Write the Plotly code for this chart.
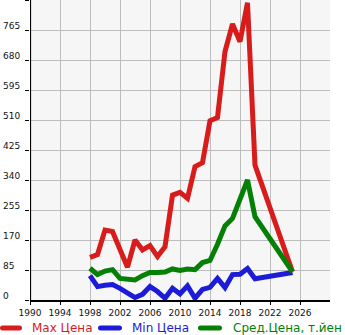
import plotly.graph_objects as go

# Price history by model year
years = [1998, 1999, 2000, 2001, 2002, 2003, 2004, 2005, 2006, 2007, 2008, 2009,
         2010, 2011, 2012, 2013, 2014, 2015, 2016, 2017, 2018, 2019, 2020, 2025]
max_price = [121, 129, 198, 194, 143, 93, 170, 142, 154, 123, 151, 297,
             305, 288, 378, 389, 508, 517, 704, 782, 732, 842, 382, 80]
min_price = [69, 38, 42, 44, 33, 22, 7, 16, 38, 24, 5, 33,
             17, 40, 5, 30, 36, 61, 35, 72, 73, 89, 60, 78]
avg_price = [90, 72, 82, 86, 61, 60, 57, 69, 78, 78, 79, 88,
             84, 88, 86, 106, 112, 158, 210, 231, 285, 340, 236, 80]

y_ticks = [0, 85, 170, 255, 340, 425, 510, 595, 680, 765]
x_ticks = [1990, 1994, 1998, 2002, 2006, 2010, 2014, 2018, 2022, 2026]

series_names = ["Max Цена", "Min Цена", "Сред.Цена, т.йен"]
series_colors = ["#d81b1b", "#1c1cd8", "#048004"]
series_values = [max_price, min_price, avg_price]

FONT = "DejaVu Sans"

fig = go.Figure()
for name, color, vals in zip(series_names, series_colors, series_values):
    fig.add_trace(go.Scatter(
        x=years, y=vals, mode="lines", name=name,
        line=dict(color=color, width=5, shape="linear"),
        showlegend=False,
    ))

fig.update_layout(
    width=345, height=335,
    margin=dict(l=30, r=15, t=0, b=35),
    paper_bgcolor="white",
    plot_bgcolor="#f6f6f6",
    font=dict(family=FONT, size=9, color="#111"),
    xaxis=dict(
        range=[1990, 2030], tickvals=x_ticks, ticktext=[str(t) for t in x_ticks],
        showgrid=True, gridcolor="#bdbdbd", gridwidth=1,
        showline=True, linecolor="black", linewidth=2,
        ticks="outside", ticklen=3, tickcolor="black", tickwidth=1,
        zeroline=False, fixedrange=True,
        tickfont=dict(family=FONT, size=9, color="#111"),
    ),
    yaxis=dict(
        range=[0, 850], tickvals=y_ticks + [850], showticklabels=False,
        showgrid=True, gridcolor="#bdbdbd", gridwidth=1,
        ticks="outside", ticklen=4, tickcolor="black", tickwidth=1,
        zeroline=False, fixedrange=True,
    ),
)

# left axis line at the first year
fig.add_shape(type="line", xref="x", yref="paper", x0=1990, x1=1990, y0=-0.005, y1=1,
              line=dict(color="black", width=2.2))

# y tick labels, left-aligned at the figure edge, sitting on the grid lines
for v in y_ticks:
    fig.add_annotation(
        x=-29 / 300, y=v, xref="paper", yref="y", xanchor="left", yanchor="middle",
        text=str(v), showarrow=False, yshift=4,
        font=dict(family=FONT, size=9, color="#111"),
    )


def pill(x0, x1, yc, r=2.5):
    k = 1.333 * r
    return (f"M{x0},{yc + r} L{x1},{yc + r} C{x1 + k},{yc + r} {x1 + k},{yc - r} {x1},{yc - r} "
            f"L{x0},{yc - r} C{x0 - k},{yc - r} {x0 - k},{yc + r} {x0},{yc + r} Z")


# legend row below the plot
legend_sym = [(-27.5, -10.5), (70.5, 89.5), (170.5, 189.5)]
legend_txt = [0, 100, 201]
for (s0, s1), tx, name, color in zip(legend_sym, legend_txt, series_names, series_colors):
    fig.add_shape(type="path", xref="paper", yref="paper", xsizemode="pixel",
                  ysizemode="pixel", xanchor=0, yanchor=0, path=pill(s0, s1, -28),
                  fillcolor=color, line=dict(width=0))
    fig.add_annotation(
        x=tx / 300, y=-28 / 300, xref="paper", yref="paper", xanchor="left",
        yanchor="middle", text=name, showarrow=False,
        font=dict(family=FONT, size=12, color=color),
    )

fig.write_html("out.html", config={"displayModeBar": False})
